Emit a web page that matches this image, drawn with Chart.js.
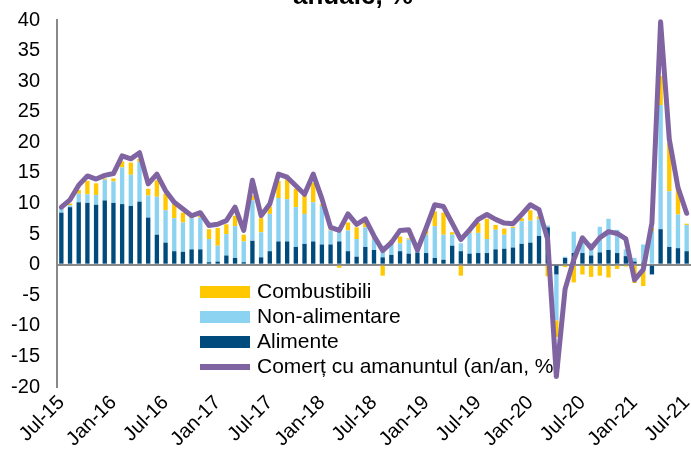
<!DOCTYPE html>
<html>
<head>
<meta charset="utf-8">
<script src="https://cdn.jsdelivr.net/npm/chart.js@4/dist/chart.umd.min.js"></script>
<style>
  html, body { margin: 0; padding: 0; background: #fff; }
  #wrap { position: relative; width: 691px; height: 456px; overflow: hidden; }
  #title {
    position: absolute; left: 253px; width: 200px; top: -20px;
    text-align: center; line-height: 26px;
    font: bold 26px "Liberation Sans", Arial, sans-serif; color: #000;
  }
</style>
</head>
<body>
<div id="wrap">
  <canvas id="chart" width="691" height="456"></canvas>
  <div id="title">anuale, %</div>
</div>
<script>
// Monthly categories, Jul-15 .. Jul-21
const months = [
  'Jul-15', 'Aug-15', 'Sep-15', 'Oct-15', 'Nov-15', 'Dec-15',
  'Jan-16', 'Feb-16', 'Mar-16', 'Apr-16', 'May-16', 'Jun-16',
  'Jul-16', 'Aug-16', 'Sep-16', 'Oct-16', 'Nov-16', 'Dec-16',
  'Jan-17', 'Feb-17', 'Mar-17', 'Apr-17', 'May-17', 'Jun-17',
  'Jul-17', 'Aug-17', 'Sep-17', 'Oct-17', 'Nov-17', 'Dec-17',
  'Jan-18', 'Feb-18', 'Mar-18', 'Apr-18', 'May-18', 'Jun-18',
  'Jul-18', 'Aug-18', 'Sep-18', 'Oct-18', 'Nov-18', 'Dec-18',
  'Jan-19', 'Feb-19', 'Mar-19', 'Apr-19', 'May-19', 'Jun-19',
  'Jul-19', 'Aug-19', 'Sep-19', 'Oct-19', 'Nov-19', 'Dec-19',
  'Jan-20', 'Feb-20', 'Mar-20', 'Apr-20', 'May-20', 'Jun-20',
  'Jul-20', 'Aug-20', 'Sep-20', 'Oct-20', 'Nov-20', 'Dec-20',
  'Jan-21', 'Feb-21', 'Mar-21', 'Apr-21', 'May-21', 'Jun-21',
  'Jul-21'
];

const alimente = [
  8.5, 9.4, 10.2, 10.1, 9.8, 10.5, 10.1, 9.9, 9.6, 10.3,
  7.7, 4.9, 3.6, 2.2, 2.1, 2.5, 2.5, 0.4, 0.5, 1.5,
  1.1, 0.4, 3.9, 1.2, 2.2, 3.8, 3.8, 2.9, 3.4, 3.8,
  3.3, 3.3, 3.8, 2.2, 1.3, 2.9, 2.4, 1.2, 1.6, 2.2,
  1.8, 2.0, 1.9, 1.1, 0.8, 3.1, 2.2, 1.8, 1.9, 1.9,
  2.5, 2.6, 2.8, 3.4, 3.6, 4.7, 6.1, -1.6, 1.1, 1.9,
  1.9, 1.5, 2.0, 2.4, 1.9, 1.4, 0.5, 0.3, -1.6, 5.8,
  2.9, 2.7, 2.2
];

const nonAlimentare = [
  0.8, 0.3, 1.4, 1.4, 1.6, 3.4, 3.5, 6.0, 5.1, 6.5,
  3.6, 6.2, 5.3, 5.4, 4.8, 5.1, 5.2, 3.8, 2.6, 3.5,
  5.2, 3.4, 6.6, 4.1, 6.1, 7.1, 6.9, 6.5, 4.9, 6.4,
  6.3, 2.3, 1.5, 3.4, 2.9, 3.2, 1.8, 1.9, 1.9, 1.3,
  2.3, 0.4, 3.0, 5.2, 4.1, 1.8, 1.3, 3.4, 3.3, 2.3,
  3.2, 2.3, 3.2, 3.7, 3.6, 2.7, 0.3, -7.5, 0.2, 3.5,
  2.5, 2.0, 4.2, 5.1, 3.8, 1.1, 0.6, 3.0, 5.5, 20.3,
  9.1, 5.5, 4.3
];

const combustibili = [
  0.3, 0.3, 0.6, 2.2, 1.9, 0.2, 0.5, 1.0, 2.0, 0.5,
  1.1, 2.7, 2.7, 2.3, 1.6, 0.3, 0.3, 1.6, 2.9, 1.6,
  1.7, 1.1, 0.8, 2.3, 1.2, 2.8, 3.3, 3.0, 3.3, 3.2,
  0.3, 0.2, -0.5, 1.3, 1.9, 0.9, 0.2, -1.8, 0.5, 1.1,
  0.2, 0.0, 0.8, 2.4, 3.6, 0.4, -1.8, 0.3, 1.6, 3.3,
  0.8, 1.0, 0.2, 0.5, 1.7, 0.5, -1.9, -2.7, -0.4, -2.9,
  -1.6, -2.0, -1.8, -2.1, -0.7, -0.3, -3.0, -3.5, 0.5, 4.7,
  7.9, 4.6, 0.2
];

const comert = [
  9.4, 10.6, 13.0, 14.5, 14.0, 14.6, 14.9, 17.8, 17.3, 18.3,
  13.2, 14.8, 12.1, 10.2, 9.1, 8.0, 8.5, 6.4, 6.6, 7.2,
  9.4, 5.6, 13.8, 8.0, 9.9, 14.8, 14.3, 12.9, 11.5, 14.8,
  10.8, 6.1, 5.6, 8.3, 6.6, 7.5, 4.7, 2.3, 3.6, 5.6,
  5.7, 2.4, 6.0, 9.8, 9.5, 6.8, 4.1, 5.7, 7.4, 8.2,
  7.4, 6.8, 6.7, 8.2, 9.8, 9.0, 4.1, -18.3, -4.0, 0.8,
  4.4, 2.7, 4.4, 5.4, 5.1, 4.2, -2.5, -0.8, 6.8, 39.7,
  20.5, 12.6, 8.4
];

const yMin = -20;
const yMax = 40;
const yStep = 5;
const labelEvery = 6;

// legend rows, top to bottom (dataset indexes)
const legendOrder = [2, 1, 0, 3];

const fontFamily = '"Liberation Sans", Arial, sans-serif';

// Legend drawn inside the plot, under the line like in the original
const insideLegend = {
    id: 'insideLegend',
    beforeDatasetsDraw(chart) {
        const ctx = chart.ctx;
        ctx.save();
        ctx.font = '21px ' + fontFamily;
        ctx.textBaseline = 'middle';
        legendOrder.forEach((idx, row) => {
            const ds = chart.data.datasets[idx];
            const y = 292 + row * 25;
            if (ds.type === 'line') {
                ctx.strokeStyle = ds.borderColor;
                ctx.lineWidth = 6;
                ctx.beginPath();
                ctx.moveTo(200, y);
                ctx.lineTo(250, y);
                ctx.stroke();
            } else {
                ctx.fillStyle = ds.backgroundColor;
                ctx.fillRect(200, y - 6, 50, 12);
            }
            ctx.fillStyle = '#000';
            ctx.fillText(ds.label, 257, y);
        });
        ctx.restore();
    }
};

const ctx = document.getElementById('chart').getContext('2d');
new Chart(ctx, {
    type: 'bar',
    data: {
        labels: months,
        datasets: [
            {
                label: 'Alimente',
                data: alimente,
                backgroundColor: '#004B7D',
                stack: 'contrib',
                barPercentage: 0.5,
                categoryPercentage: 1
            },
            {
                label: 'Non-alimentare',
                data: nonAlimentare,
                backgroundColor: '#8CD3F2',
                stack: 'contrib',
                barPercentage: 0.5,
                categoryPercentage: 1
            },
            {
                label: 'Combustibili',
                data: combustibili,
                backgroundColor: '#FFC800',
                stack: 'contrib',
                barPercentage: 0.5,
                categoryPercentage: 1
            },
            {
                type: 'line',
                label: 'Comerț cu amanuntul (an/an, %)',
                data: comert,
                stack: 'line',
                order: -1,
                borderColor: '#8064A2',
                backgroundColor: '#8064A2',
                borderWidth: 5,
                borderJoinStyle: 'round',
                borderCapStyle: 'round',
                pointRadius: 0,
                tension: 0,
                clip: false
            }
        ]
    },
    options: {
        responsive: false,
        animation: false,
        layout: {
            padding: { top: 20, right: 0, bottom: 0, left: 0 }
        },
        plugins: {
            legend: { display: false },
            tooltip: { enabled: false }
        },
        scales: {
            x: {
                stacked: true,
                grid: { display: false, drawTicks: false },
                border: { display: false },
                ticks: {
                    autoSkip: false,
                    minRotation: 45,
                    maxRotation: 45,
                    padding: 4,
                    color: '#000',
                    font: { family: fontFamily, size: 20 },
                    callback: function (value, index) {
                        return index % labelEvery === 0 ? months[index] : '';
                    }
                },
                afterFit: function (scale) {
                    scale.height = 69;
                    scale.paddingLeft = 0;
                    scale.paddingRight = 0;
                }
            },
            y: {
                stacked: true,
                min: yMin,
                max: yMax,
                grid: {
                    drawTicks: false,
                    lineWidth: 2,
                    color: c => (c.tick && c.tick.value === 0 ? '#898989' : 'rgba(0,0,0,0)')
                },
                border: { display: true, color: '#898989', width: 2 },
                ticks: {
                    stepSize: yStep,
                    padding: 17,
                    color: '#000',
                    font: { family: fontFamily, size: 20 }
                },
                afterFit: function (scale) {
                    scale.width = 57;
                    scale.paddingTop = 0;
                    scale.paddingBottom = 0;
                }
            }
        }
    },
    plugins: [insideLegend]
});
</script>
</body>
</html>
